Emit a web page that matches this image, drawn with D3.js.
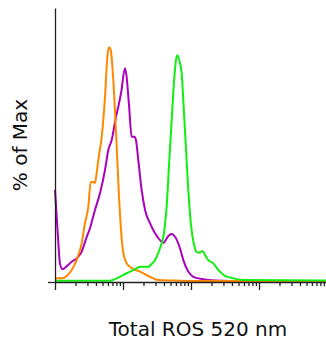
<!DOCTYPE html>
<html>
<head>
<meta charset="utf-8">
<script src="https://cdn.jsdelivr.net/npm/d3@7"></script>
<style>
  body { margin: 0; background: #fff; }
  svg { display: block; font-family: "DejaVu Sans", sans-serif; }
</style>
</head>
<body>
<div id="chart"></div>
<script>
const w = 326
const h = 341

// fluorescence intensity (log) and % of max
const orangeX = [1, 1.25, 1.49, 1.76, 2.08, 2.47, 2.76, 3.09, 3.35, 3.66, 3.87, 4.1, 4.33, 4.86, 5.44, 5.88, 6.22, 6.59, 7.2, 8.08, 8.74, 9.35, 10.1, 11.3, 13.4, 17.8, 25, 33, 58, 103, 10000]
const orangeY = [1.35, 1.35, 2.2, 4.4, 8, 14.2, 21.5, 27.4, 36.5, 36.5, 36.1, 39.8, 44.5, 52.9, 67.5, 82.1, 85.7, 84.7, 73.7, 49.3, 31, 19, 10.6, 6.9, 5.1, 3.8, 1.9, 0.7, 0.55, 0.4, 0.3]

const purpleX = [1, 1.12, 1.18, 1.28, 1.49, 1.76, 2.08, 2.47, 2.93, 3.27, 3.87, 4.59, 5.44, 6.08, 6.82, 7.89, 8.53, 9.35, 10.7, 11.3, 12.3, 13.4, 14.7, 15.5, 16.8, 18.8, 21.1, 25, 29.6, 35, 39.2, 46.4, 52, 58.2, 68.9, 77.1, 91.2, 108, 144, 225, 622, 10000]
const purpleY = [33.6, 14.2, 6.9, 4.7, 5.8, 7.4, 8.6, 11.1, 16.5, 19.6, 26.3, 32.4, 40.9, 48.2, 51.8, 60.3, 64, 68.9, 78, 74.9, 64, 53, 53, 51.8, 44.5, 33.6, 26.3, 21.4, 17.8, 15.3, 14.3, 16.8, 17.5, 16.5, 12.3, 8, 3.8, 1.9, 1.1, 0.55, 0.36, 0.36]

const greenX = [1, 6.44, 8.08, 11.3, 15.9, 17.8, 21.1, 23.6, 25, 29.6, 35, 39.2, 44, 48, 52, 56.2, 60.1, 63.3, 68.9, 72.9, 76.3, 83, 90.3, 100, 111, 122, 136, 147, 161, 180, 213, 252, 316, 419, 588, 10000]
const greenY = [0.47, 0.47, 1.35, 3.2, 5, 5.6, 5.6, 5.5, 6, 8, 12.3, 16.5, 28.1, 44.5, 59.1, 73, 81, 82.8, 79.8, 76.2, 68.2, 51.8, 35.4, 20.8, 13.5, 10.9, 10.7, 11.3, 9.85, 8, 6.8, 4.4, 2.2, 1.35, 0.73, 0.55]

const majorTicks = [1, 10, 100, 1000, 10000]
const minorTicks = [2, 3, 4, 5, 6, 7, 8, 9, 20, 30, 40, 50, 60, 70, 80, 90, 200, 300, 400, 500, 600, 700, 800, 900, 2000, 3000, 4000, 5000, 6000, 7000, 8000, 9000]

const xLabel = 'Total ROS 520 nm'
const yLabel = '% of Max'

const svg = d3.select('#chart')
    .append('svg')
    .attr('width', w)
    .attr('height', h)

const xScale = d3.scaleLog()
    .domain([1, 10000])
    .range([55, 327])

const yScale = d3.scaleLinear()
    .domain([0, 100])
    .range([282, 8])

const line = d3.line()
    .x(d => xScale(d[0]))
    .y(d => yScale(d[1]))
    .curve(d3.curveMonotoneX)

const series = [
    { x: purpleX, y: purpleY, color: '#aa00bb' },
    { x: orangeX, y: orangeY, color: '#ff8800' },
    { x: greenX, y: greenY, color: '#11ee11' }
]

series.forEach(s => {
    svg.append('path')
        .datum(s.x.map((v, i) => [v, s.y[i]]))
        .attr('d', line)
        .attr('fill', 'none')
        .attr('stroke', s.color)
        .attr('stroke-width', 2)
})

// x axis: minor and major ticks
svg.append('g')
    .attr('transform', 'translate(0,' + yScale(0) + ')')
    .call(d3.axisBottom(xScale).tickValues(minorTicks).tickSize(4).tickSizeOuter(0).tickFormat(''))
    .call(g => g.select('.domain').remove())

svg.append('g')
    .attr('transform', 'translate(0,' + yScale(0) + ')')
    .call(d3.axisBottom(xScale).tickValues(majorTicks).tickSize(8).tickSizeOuter(0).tickFormat(''))

svg.append('g')
    .attr('transform', 'translate(' + xScale(1) + ',0)')
    .call(d3.axisLeft(yScale).tickValues([0]).tickSize(7).tickSizeOuter(0).tickFormat(''))

svg.selectAll('.domain, .tick line')
    .attr('stroke', '#222')
    .attr('stroke-width', 1.3)

svg.append('text')
    .attr('x', 198)
    .attr('y', 336)
    .attr('text-anchor', 'middle')
    .attr('font-size', 20)
    .attr('fill', '#111')
    .text(xLabel)

svg.append('text')
    .attr('transform', 'translate(27,145) rotate(-90)')
    .attr('text-anchor', 'middle')
    .attr('font-size', 20)
    .attr('fill', '#111')
    .text(yLabel)
</script>
</body>
</html>
